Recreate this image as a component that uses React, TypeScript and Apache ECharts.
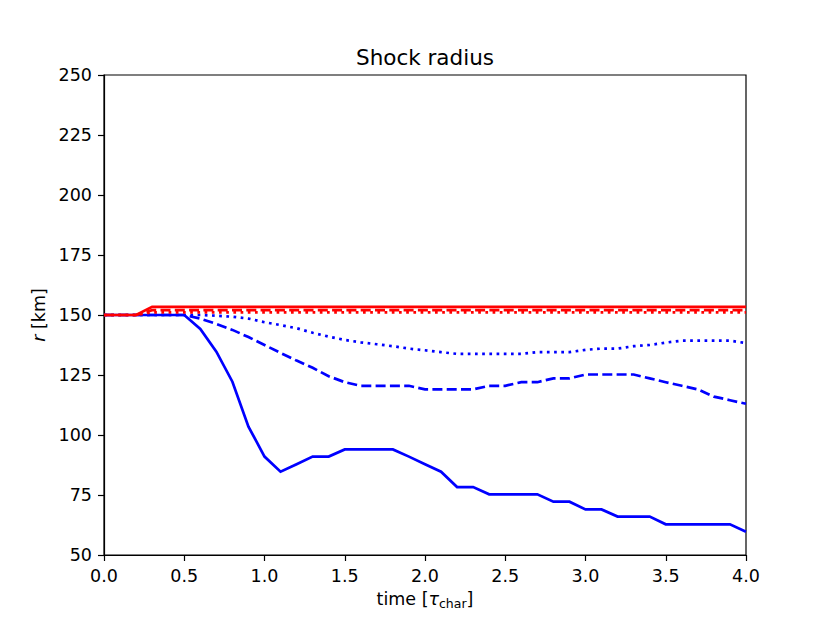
import React, { useEffect, useRef } from "react";
import * as echarts from "echarts";

const times = [
  0.0, 0.1, 0.2, 0.3, 0.4, 0.5, 0.6, 0.7, 0.8, 0.9,
  1.0, 1.1, 1.2, 1.3, 1.4, 1.5, 1.6, 1.7, 1.8, 1.9,
  2.0, 2.1, 2.2, 2.3, 2.4, 2.5, 2.6, 2.7, 2.8, 2.9,
  3.0, 3.1, 3.2, 3.3, 3.4, 3.5, 3.6, 3.7, 3.8, 3.9,
  4.0,
];

const blueSolid = [
  150, 150, 150, 150, 150, 150, 144.2, 134.7, 122.2, 103.5,
  91, 84.7, 87.8, 91, 91, 94, 94, 94, 94, 91,
  87.8, 84.7, 78.3, 78.3, 75.3, 75.3, 75.3, 75.3, 72.2, 72.2,
  69, 69, 66, 66, 66, 62.8, 62.8, 62.8, 62.8, 62.8,
  59.7,
];

const blueDashed = [
  150, 150, 150, 150, 150, 150, 148.5, 146.3, 143.8, 140.8,
  137.5, 134.2, 131, 128, 124.5, 122, 120.5, 120.5, 120.5, 120.5,
  119, 119, 119, 119, 120.5, 120.5, 122, 122, 123.6, 123.6,
  125.2, 125.2, 125.2, 125.2, 123.6, 122, 120.5, 119, 116, 114.5,
  113,
];

const blueDotted = [
  150, 150, 150, 150, 150, 150, 150, 149.7, 149.3, 148.5,
  147, 145.8, 144.5, 142.6, 141, 139.6, 138.6, 137.8, 137, 136,
  135.3, 134.5, 133.8, 133.8, 133.8, 133.8, 133.8, 134.5, 134.5, 134.5,
  135.5, 136, 136, 137, 137.5, 138.5, 139.3, 139.3, 139.3, 139.3,
  138.3,
];

const redSolid = [
  150, 150, 150, 153.4, 153.4, 153.4, 153.4, 153.4, 153.4, 153.4,
  153.4, 153.4, 153.4, 153.4, 153.4, 153.4, 153.4, 153.4, 153.4, 153.4,
  153.4, 153.4, 153.4, 153.4, 153.4, 153.4, 153.4, 153.4, 153.4, 153.4,
  153.4, 153.4, 153.4, 153.4, 153.4, 153.4, 153.4, 153.4, 153.4, 153.4,
  153.4,
];

const redDashed = [
  150, 150, 150, 152, 152, 152, 152, 152, 152, 152,
  152, 152, 152, 152, 152, 152, 152, 152, 152, 152,
  152, 152, 152, 152, 152, 152, 152, 152, 152, 152,
  152, 152, 152, 152, 152, 152, 152, 152, 152, 152,
  152,
];

const redDotted = [
  150, 150, 150, 151.1, 151.1, 151.1, 151.1, 151.1, 151.1, 151.1,
  151.1, 151.1, 151.1, 151.1, 151.1, 151.1, 151.1, 151.1, 151.1, 151.1,
  151.1, 151.1, 151.1, 151.1, 151.1, 151.1, 151.1, 151.1, 151.1, 151.1,
  151.1, 151.1, 151.1, 151.1, 151.1, 151.1, 151.1, 151.1, 151.1, 151.1,
  151.1,
];

const FONT = "DejaVu Sans";
const LW = 2.7;
const DASH = [10, 4.3];
const DOT = [2.7, 4.5];

function pairs(ys: number[]) {
  return times.map((t, i) => [t, ys[i]]);
}

function line(name: string, ys: number[], color: string, type: any) {
  return {
    name,
    type: "line",
    data: pairs(ys),
    showSymbol: false,
    symbol: "none",
    lineStyle: { color, width: LW, type, cap: "butt", join: "miter" },
    emphasis: { disabled: true },
  };
}

export default function App() {
  const ref = useRef<HTMLDivElement>(null);
  useEffect(() => {
    if (!ref.current) return;
    const chart = echarts.init(ref.current, null, { renderer: "svg" });
    const axisCommon = {
      axisLine: { show: true, onZero: false, lineStyle: { color: "#000", width: 1.2 } },
      axisTick: { show: true, inside: false, length: 6, lineStyle: { color: "#000", width: 1.2 } },
      splitLine: { show: false },
      axisLabel: { color: "#000", fontFamily: FONT, fontSize: 17.5, margin: 12 },
    };
    chart.setOption({
      animation: false,
      backgroundColor: "#fff",
      title: {
        text: "Shock radius",
        left: 420,
        textAlign: "center",
        top: 41,
        textStyle: { color: "#000", fontFamily: FONT, fontSize: 21.5, fontWeight: "normal" },
      },
      grid: {
        left: 104,
        right: 84,
        top: 75,
        bottom: 68,
        show: true,
        borderColor: "#000",
        borderWidth: 1.2,
        backgroundColor: "transparent",
      },
      xAxis: {
        type: "value",
        min: 0,
        max: 4,
        interval: 0.5,
        ...axisCommon,
        axisLabel: { ...axisCommon.axisLabel, formatter: (v: number) => v.toFixed(1) },
        name: "time [{tau|τ}{sub|char}]",
        nameLocation: "middle",
        nameGap: 32,
        nameTextStyle: {
          color: "#000",
          fontFamily: FONT,
          fontSize: 17.5,
          verticalAlign: "top",
          rich: {
            tau: { fontFamily: FONT, fontSize: 17.5, fontStyle: "italic", color: "#000" },
            sub: { fontFamily: FONT, fontSize: 12.5, color: "#000", padding: [10, 0, 0, 0] },
          },
        },
      },
      yAxis: {
        type: "value",
        min: 50,
        max: 250,
        interval: 25,
        ...axisCommon,
        name: "{r|r} [km]",
        nameLocation: "middle",
        nameGap: 56,
        nameTextStyle: {
          color: "#000",
          fontFamily: FONT,
          fontSize: 17.5,
          rich: {
            r: { fontFamily: FONT, fontSize: 17.5, fontStyle: "italic", color: "#000" },
          },
        },
      },
      series: [
        line("blue solid", blueSolid, "#0000ff", "solid"),
        line("blue dashed", blueDashed, "#0000ff", DASH),
        line("blue dotted", blueDotted, "#0000ff", DOT),
        line("red solid", redSolid, "#ff0000", "solid"),
        line("red dashed", redDashed, "#ff0000", DASH),
        line("red dotted", redDotted, "#ff0000", DOT),
      ],
    });
    return () => chart.dispose();
  }, []);
  return (
    <div
      ref={ref}
      style={{ position: "fixed", left: 0, top: 0, width: 830, height: 623, background: "#fff" }}
    />
  );
}
